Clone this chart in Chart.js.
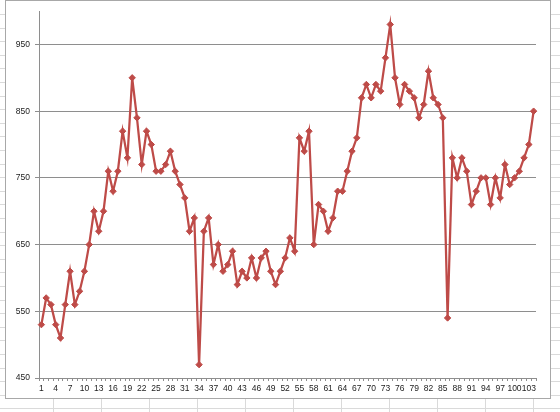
<!DOCTYPE html>
<html>
<head>
<meta charset="utf-8">
<script src="https://cdn.jsdelivr.net/npm/chart.js@4/dist/chart.umd.min.js"></script>
<style>
  html, body { margin: 0; padding: 0; }
  body { width: 560px; height: 412px; position: relative; overflow: hidden; background: #fff; }
  #sheet { position: absolute; left: 0; top: 0; }
  #box { position: absolute; left: 5px; top: 0px; width: 544px; height: 397px; background: #fff; border: 1px solid #a8a8a8; }
  #wrap { position: absolute; left: 0; top: 0; width: 544px; height: 397px; }
</style>
</head>
<body>
<canvas id="sheet" width="560" height="412"></canvas>
<div id="box"><div id="wrap"><canvas id="c"></canvas></div></div>
<script>
// ---- data ----
const categories = [1,2,3,4,5,6,7,8,9,10,11,12,13,14,15,16,17,18,19,20,21,22,23,24,25,26,27,28,29,30,31,32,33,34,35,36,37,38,39,40,41,42,43,44,45,46,47,48,49,50,51,52,53,54,55,56,57,58,59,60,61,62,63,64,65,66,67,68,69,70,71,72,73,74,75,76,77,78,79,80,81,82,83,84,85,86,87,88,89,90,91,92,93,94,95,96,97,98,99,100,101,102,103,104];
const values = [
  530,570,560,530,510,560,610,560,580,610,
  650,700,670,700,760,730,760,820,780,900,
  840,770,820,800,760,760,770,790,760,740,
  720,670,690,470,670,690,620,650,610,620,
  640,590,610,600,630,600,630,640,610,590,
  610,630,660,640,810,790,820,650,710,700,
  670,690,730,730,760,790,810,870,890,870,
  890,880,930,980,900,860,890,880,870,840,
  860,910,870,860,840,540,780,750,780,760,
  710,730,750,750,710,750,720,770,740,750,
  760,780,800,850
];
const yTicks = [450,550,650,750,850,950];
const yMin = 450, yMax = 1000;

// ---- decorative spreadsheet cell grid behind the chart ----
(function(){
  const s = document.getElementById('sheet').getContext('2d');
  s.fillStyle = '#dadada';
  for (let k = 0; k < 31; k++) { const y = Math.round(14 + k*13.6); s.fillRect(0, y, 560, 1); }
  for (let k = 0; k < 12; k++) { const x = 53 + k*48; s.fillRect(x, 0, 1, 412); }
})();

const gridColor = '#8e8e8e';
new Chart(document.getElementById('c'), {
  type: 'line',
  data: {
    labels: categories,
    datasets: [{
      data: values,
      borderColor: '#be4b48',
      backgroundColor: '#be4b48',
      borderWidth: 2.25,
      pointStyle: 'rectRot',
      pointRadius: 3.2,
      pointBorderWidth: 1,
      pointBackgroundColor: '#be4b48',
      pointBorderColor: '#be4b48',
      tension: 0
    }]
  },
  options: {
    responsive: true,
    maintainAspectRatio: false,
    animation: false,
    layout: { padding: { left: 0, top: 10, right: 14, bottom: 0 } },
    plugins: { legend: { display: false }, tooltip: { enabled: false } },
    scales: {
      x: {
        type: 'category',
        offset: true,
        grid: { display: true, drawOnChartArea: false, offset: true, tickLength: 3, color: gridColor },
        border: { display: true, color: gridColor, width: 1 },
        ticks: {
          autoSkip: false, minRotation: 0, maxRotation: 0, padding: 3,
          color: '#222', font: { family: 'Liberation Sans', size: 8.5 },
          callback: function(v, i) { return i % 3 === 0 ? String(categories[i]) : ''; }
        },
        afterFit: function(sc) { sc.height = 20; }
      },
      y: {
        min: yMin, max: yMax,
        afterBuildTicks: function(sc) { sc.ticks = yTicks.map(v => ({ value: v })); },
        grid: { color: gridColor, lineWidth: 1, tickLength: 4 },
        border: { display: true, color: gridColor, width: 1 },
        ticks: { padding: 5, color: '#222', font: { family: 'Liberation Sans', size: 8.5 } },
        afterFit: function(sc) { sc.width = 33; }
      }
    }
  }
});
</script>
</body>
</html>
